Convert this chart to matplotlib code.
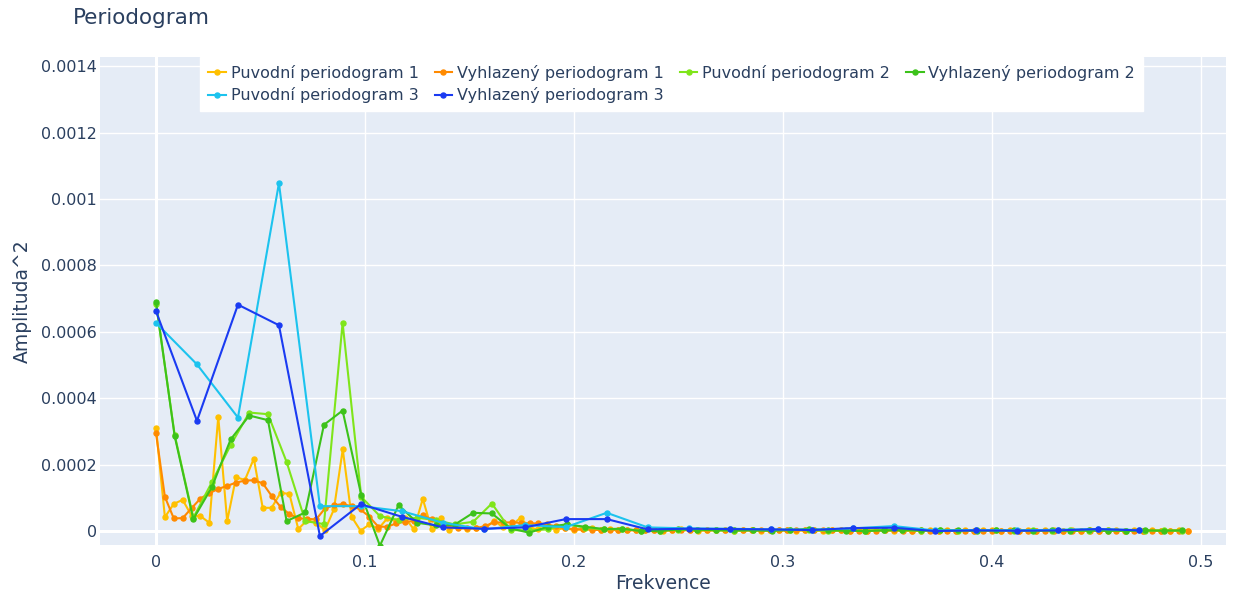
import numpy as np
import matplotlib
matplotlib.use("Agg")
import matplotlib.pyplot as plt

# ---------------- data (amplitudes in units of 1e-5) ----------------
N1, N2, N3 = 235, 112, 51          # frequency resolution of each periodogram
SCALE = 1e-5

puv1 = [31.1, 4.2, 8.2, 9.4, 4.6, 4.5, 2.5, 34.4, 3.0, 16.2,
        15.4, 21.8, 7.0, 7.0, 11.5, 11.2, 0.6, 3.3, 2.5, 0.3,
        6.5, 24.6, 4.3, 0.1, 2.0, 0.7, 3.8, 3.0, 4.0, 0.5,
        9.7, 0.5, 4.0, 0.4, 1.5, 0.6, 1.0, 0.8, 3.1, 1.2,
        1.8, 4.0, 1.0, 0.5, 1.2, 0.4, 0.9, 0.3, 0.5, 0.8,
        0.3, 0.6, 0.2, 0.4, 0.3, 0.2, 0.4, 0.1, 0.3, 0.5,
        0.2, 0.1, 0.3, 0.2, 0.4, 0.1, 0.2, 0.3, 0.1, 0.2,
        0.4, 0.2, 0.1, 0.3, 0.2, 0.1, 0.2, 0.3, 0.1, 0.2,
        0.1, 0.3, 0.2, 0.1, 0.2, 0.1, 0.2, 0.3, 0.1, 0.2,
        0.1, 0.2, 0.1, 0.3, 0.2, 0.1, 0.2, 0.1, 0.2, 0.1,
        0.3, 0.2, 0.1, 0.2, 0.1, 0.2, 0.1, 0.2, 0.3, 0.1,
        0.2, 0.1, 0.2, 0.1, 0.1, 0.2, 0.1]
vyh1 = [29.5, 10.3, 3.8, 3.9, 6.9, 9.8, 11.4, 12.7, 13.6, 14.6,
        15.2, 15.3, 14.4, 10.6, 7.3, 5.1, 3.8, 3.7, 3.5, 6.8,
        7.8, 8.1, 7.5, 6.5, 4.3, 1.3, 1.3, 2.3, 2.8, 3.0,
        4.8, 3.5, 2.5, 1.5, 0.8, 0.8, 0.9, 1.5, 2.6, 2.6,
        2.6, 2.5, 2.3, 2.3, 2.0, 1.4, 0.8, 0.6, 0.5, 0.4,
        0.3, 0.3, 0.3, 0.2, 0.2, 0.3, 0.3, 0.2, 0.2, 0.3,
        0.2, 0.2, 0.2, 0.2, 0.2, 0.2, 0.2, 0.2, 0.2, 0.2,
        0.2, 0.2, 0.2, 0.2, 0.2, 0.2, 0.2, 0.2, 0.1, 0.1,
        0.1, 0.1, 0.2, 0.2, 0.1, 0.1, 0.1, 0.1, 0.1, 0.1,
        0.1, 0.1, 0.1, 0.1, 0.1, 0.1, 0.1, 0.1, 0.1, 0.1,
        0.1, 0.1, 0.1, 0.1, 0.1, 0.1, 0.1, 0.1, 0.1, 0.1,
        0.1, 0.1, 0.1, 0.1, 0.1, 0.1, 0.1]
puv2 = [68.5, 29.0, 4.0, 14.8, 25.9, 35.7, 35.2, 20.8, 3.0, 2.1,
        62.7, 10.3, 4.5, 3.3, 4.0, 3.3, 2.0, 2.8, 8.3, 0.3,
        0.2, 0.5, 2.1, 1.0, 0.5, 0.6, 0.1, 0.1, 0.4, 0.3,
        0.2, 0.1, 0.3, 0.2, 0.4, 0.2, 0.1, 0.2, 0.1, 0.3,
        0.2, 0.1, 0.2, 0.1, 0.3, 0.2, 0.1, 0.2, 0.1, 0.2,
        0.1, 0.2, 0.1, 0.1, 0.2, 0.1]
vyh2 = [69.0, 28.6, 3.6, 13.3, 27.6, 34.8, 33.4, 3.0, 5.6, 32.0,
        36.3, 10.8, -4.4, 7.8, 2.5, 1.7, 1.9, 5.5, 5.3, 0.8,
        -0.5, 1.3, 2.0, 1.3, 0.6, 0.7, 0.0, 0.0, 0.5, 0.4,
        0.3, 0.2, 0.2, 0.1, 0.3, 0.7, 0.2, 0.1, 0.0, 0.2,
        0.3, 0.2, 0.4, 0.2, 0.1, 0.2, 0.3, 0.1, 0.2, 0.1,
        0.2, 0.1, 0.1, 0.2, 0.1, 0.2]
puv3 = [62.7, 50.2, 34.2, 104.8, 7.5, 7.5, 6.0, 2.5, 0.5, 1.8,
        1.2, 5.5, 1.1, 0.8, 0.7, 0.5, 0.4, 0.8, 1.5, 0.2,
        0.3, 0.2, 0.4, 0.6, 0.3]
vyh3 = [66.2, 33.2, 68.2, 62.0, -1.5, 8.1, 4.3, 1.1, 0.7, 1.1,
        3.6, 3.6, 0.5, 0.7, 0.6, 0.5, 0.3, 0.9, 1.0, 0.0,
        0.2, 0.1, 0.2, 0.6, 0.2]

labels = ["Puvodní periodogram 1", "Vyhlazený periodogram 1",
          "Puvodní periodogram 2", "Vyhlazený periodogram 2",
          "Puvodní periodogram 3", "Vyhlazený periodogram 3"]
colors = ["#FFC000", "#FF8A00", "#7FE51A", "#3CC21A", "#1CC3EE", "#1A3BF2"]

x_ticks = [0, 0.1, 0.2, 0.3, 0.4, 0.5]
x_ticklabels = ["0", "0.1", "0.2", "0.3", "0.4", "0.5"]
y_ticks = [0, 0.0002, 0.0004, 0.0006, 0.0008, 0.001, 0.0012, 0.0014]
y_ticklabels = ["0", "0.0002", "0.0004", "0.0006", "0.0008", "0.001", "0.0012", "0.0014"]

# ---------------- figure ----------------
TXT = "#2a3f5f"
plt.rcParams["font.family"] = ["DejaVu Sans"]

fig = plt.figure(figsize=(12.38, 5.98), dpi=100)
fig.patch.set_facecolor("white")
W, H = 1238, 598
l, r, t, b = 100, 1226, 57, 545
ax = fig.add_axes([l / W, 1 - b / H, (r - l) / W, (b - t) / H])
ax.set_facecolor("#E5ECF6")
for s in ax.spines.values():
    s.set_visible(False)

series = [(N1, puv1), (N1, vyh1), (N2, puv2), (N2, vyh2), (N3, puv3), (N3, vyh3)]
handles = []
for (n, vals), lab, c in zip(series, labels, colors):
    v = np.array(vals) * SCALE
    f = np.arange(len(v)) / n
    h, = ax.plot(f, v, color=c, lw=1.5, marker="o", ms=3.6, label=lab, zorder=3)
    handles.append(h)

ax.set_xlim(-0.0268, 0.5120)
ax.set_ylim(-4.2e-5, 1.428e-3)
ax.set_xticks(x_ticks)
ax.set_xticklabels(x_ticklabels)
ax.set_yticks(y_ticks)
ax.set_yticklabels(y_ticklabels)
ax.grid(True, color="white", lw=1.0, zorder=0)
ax.set_axisbelow(True)
ax.axhline(0, color="white", lw=2.2, zorder=1)
ax.axvline(0, color="white", lw=2.2, zorder=1)
ax.tick_params(axis="both", length=0, labelsize=11.5, labelcolor=TXT)
ax.tick_params(axis="y", pad=2)
ax.tick_params(axis="x", pad=7)

ax.set_xlabel("Frekvence", fontsize=13.5, color=TXT, labelpad=3)
ax.set_ylabel("Amplituda^2", fontsize=13.5, color=TXT, labelpad=7)
fig.text(73 / W, 1 - 18 / H, "Periodogram", fontsize=15.5, color=TXT,
         ha="left", va="center")

order = [0, 4, 1, 5, 2, 3]
leg = ax.legend([handles[i] for i in order], [labels[i] for i in order],
                ncol=4, loc="upper left", bbox_to_anchor=(0.089, 1.0),
                frameon=True, fancybox=False, framealpha=1.0,
                facecolor="white", edgecolor="white",
                fontsize=11.5, handlelength=1.1, handletextpad=0.3,
                columnspacing=1.0, labelspacing=0.4, borderpad=0.5,
                borderaxespad=0)
for txt in leg.get_texts():
    txt.set_color(TXT)
leg.set_zorder(5)

fig.savefig("out.png", dpi=100, facecolor="white")
